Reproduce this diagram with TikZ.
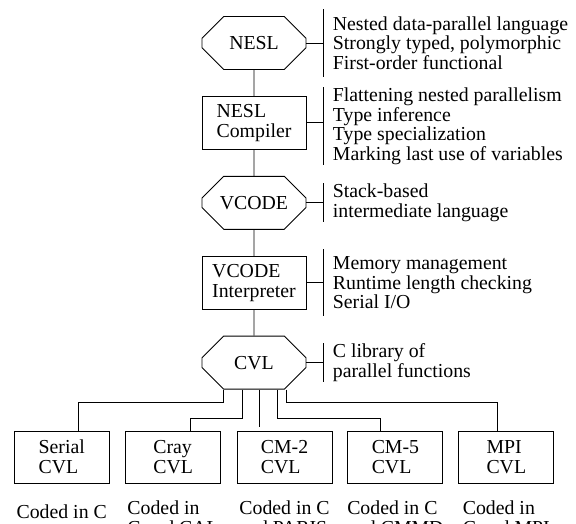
\documentclass[tikz,border=0pt]{standalone}
\usepackage{fontspec}
\setmainfont{Liberation Serif}
\usetikzlibrary{positioning, shapes.misc}

\begin{document}
\begin{tikzpicture}[x=1pt, y=1pt, line width=0.9pt, node distance=26pt, font=\fontsize{19.8}{19.7}\selectfont]
  \tikzset{stage/.style={draw, minimum width=104pt, minimum height=53pt, align=left, inner sep=2pt},
    lang/.style={stage, chamfered rectangle, chamfered rectangle xsep=13pt, chamfered rectangle ysep=13pt},
    proc/.style={stage, rectangle},
    note/.style={align=left, inner xsep=0pt, inner ysep=0pt, right=26pt of #1},
    target/.style={draw, minimum width=95pt, minimum height=52pt, align=left},
    coded/.style={align=left, inner sep=0pt}}
  \useasboundingbox (0,0) rectangle (576,-523);
  % the pipeline, top to bottom
  \node[lang] (nesl) at (254,-43) {NESL};
  \node[proc, below=of nesl] (compiler) {NESL\\Compiler};
  \node[lang, below=of compiler] (vcode) {VCODE};
  \node[proc, below=of vcode] (interp) {VCODE\\Interpreter};
  \node[lang, below=of interp] (cvl) {CVL};
  \draw (nesl) -- (compiler) -- (vcode) -- (interp) -- (cvl);
  % notes on the right of each stage
  \node[note=nesl, minimum height=67pt] (nesl-note) {Nested data-parallel language\\Strongly typed, polymorphic\\First-order functional};
  \node[note=compiler, minimum height=77pt, yshift=-3.5pt] (compiler-note) {Flattening nested parallelism\\Type inference\\Type specialization\\Marking last use of variables};
  \node[note=vcode, minimum height=33pt] (vcode-note) {Stack-based\\intermediate language};
  \node[note=interp, minimum height=66pt] (interp-note) {Memory management\\Runtime length checking\\Serial I/O};
  \node[note=cvl, minimum height=32pt] (cvl-note) {C library of\\parallel functions};
  \foreach \s in {nesl, compiler, vcode, interp, cvl} {
    \draw ([xshift=-9pt]\s-note.north west) -- ([xshift=-9pt]\s-note.south west);
    \draw (\s.east) -- ([xshift=-9pt]\s.east -| \s-note.west);
  }
  % CVL implementations
  \node[target, below=41pt of cvl, xshift=30.5pt] (cm2) {CM-2\\CVL};
  \node[target, left=15.5pt of cm2] (cray) {Cray\\CVL};
  \node[target, left=15.5pt of cray] (serial) {Serial\\CVL};
  \node[target, right=15pt of cm2] (cm5) {CM-5\\CVL};
  \node[target, right=15pt of cm5] (mpi) {MPI\\CVL};
  \draw ([xshift=-31pt]cvl.south) -- ++(0,-13) -| ([xshift=17pt]serial.north);
  \draw ([xshift=-12pt]cvl.south) -- ++(0,-29) -| ([xshift=17.5pt]cray.north);
  \draw[shorten >=4pt] ([xshift=5pt]cvl.south) -- ([xshift=5pt]cvl.south |- cm2.north);
  \draw ([xshift=23pt]cvl.south) -- ++(0,-29) -| ([xshift=-15pt]cm5.north);
  \draw ([xshift=32pt]cvl.south) -- ++(0,-13) -| ([xshift=-9pt]mpi.north);
  \node[coded, below=21pt of serial] (serial-code) {Coded in C};
  \node[coded, below=17pt of cray] (cray-code) {Coded in\\C and CAL};
  \node[coded, below=17pt of cm2] (cm2-code) {Coded in C\\and PARIS};
  \node[coded, below=17pt of cm5] (cm5-code) {Coded in C\\and CMMD};
  \node[coded, below=17pt of mpi] (mpi-code) {Coded in\\C and MPI};
\end{tikzpicture}
\end{document}
